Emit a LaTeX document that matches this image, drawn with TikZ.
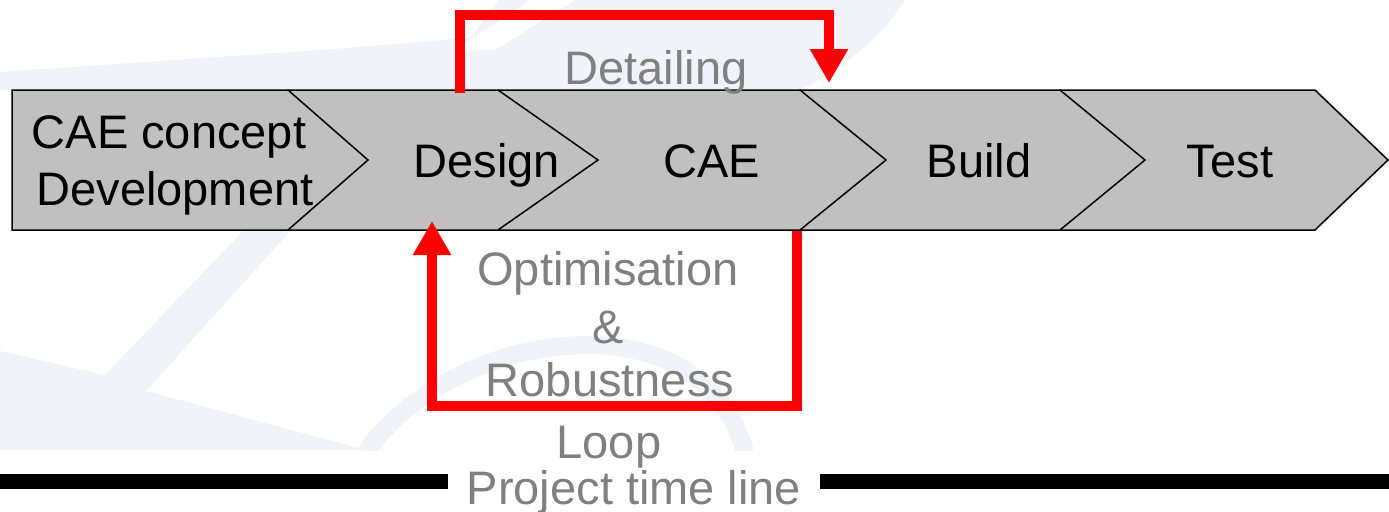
\documentclass[tikz,border=0pt]{standalone}
\usepackage{fontspec}
\setmainfont{Liberation Sans}
\usetikzlibrary{arrows.meta}
\definecolor{chev}{RGB}{192,192,192}
\definecolor{lbl}{RGB}{128,128,128}
\definecolor{tint}{RGB}{242,243,250}
\begin{document}
\begin{tikzpicture}[x=0.5pt,y=-0.5pt,
  chevbox/.style={draw=black, line width=0.75pt, fill=chev, line join=miter},
  stagetext/.style={font=\fontsize{23.5}{28}\selectfont, text=black, anchor=base, inner sep=0pt},
  looptext/.style={font=\fontsize{23.5}{28}\selectfont, text=lbl, anchor=base, inner sep=0pt},
  loopline/.style={draw=red, line width=5pt, line join=miter, -{Triangle[length=17pt,width=18pt]}},
  timebar/.style={draw=black, line width=7.5pt},
  wm/.style={fill=tint, draw=none}]
\useasboundingbox (0,0) rectangle (1389,511);
% faint watermark
\fill[wm] (0,72) -- (320,50) -- (470,38) -- (500,0) -- (905,0)
  .. controls (880,40) and (840,70) .. (800,90) -- (0,90) -- cycle;
\fill[white] (455,50) -- (530,0) -- (575,0) -- (495,50) -- cycle;
\fill[wm] (0,351) -- (105,375) -- (246,228) -- (293,228) -- (146,391)
  -- (366,450) -- (0,450) -- cycle;
\begin{scope}
  \clip (0,228) rectangle (1389,450);
  \draw[tint, line width=9pt] (366,452) .. controls (450,330) and (700,290) .. (745,452);
\end{scope}
% chevrons (drawn right to left so each overlaps the next)
\foreach \xl/\xr/\xt in {1060/1315/1388, 800/1060/1145, 498/800/886, 288/498/598, 12/288/368}{
  \draw[chevbox] (\xl,90) -- (\xr,90) -- (\xt,160) -- (\xr,230) -- (\xl,230) -- cycle;
}
% stage labels
\node[stagetext] (cae1) at (169,148) {CAE concept};
\node[stagetext] (cae2) at (175,205) {Development};
\node[stagetext] (design) at (487,177) {Design};
\node[stagetext] (cae) at (712,177) {CAE};
\node[stagetext] (build) at (979,177) {Build};
\node[stagetext] (test) at (1230,177) {Test};
% loop labels
\node[looptext] (det) at (656,84) {Detailing};
\node[looptext] (opt) at (608,285) {Optimisation};
\node[looptext] (amp) at (608,343) {\&};
\node[looptext] (rob) at (610,396) {Robustness};
\node[looptext] (loop) at (609,458) {Loop};
\node[looptext, inner xsep=9pt] (ptl) at (634,504) {Project time line};
% loops
\coordinate (detA) at (460,93);
\coordinate (detB) at (829,83);
\draw[loopline] (detA) -- ++(0,-78) -| (detB);
\coordinate (optA) at (797,231);
\coordinate (optB) at (432,221);
\draw[loopline] (optA) -- ++(0,175) -| (optB);
% time line
\coordinate (tlL) at (0,481);
\coordinate (tlR) at (1389,481);
\draw[timebar] (tlL) -- (tlL -| ptl.west);
\draw[timebar] (ptl.east |- tlR) -- (tlR);
\end{tikzpicture}
\end{document}
